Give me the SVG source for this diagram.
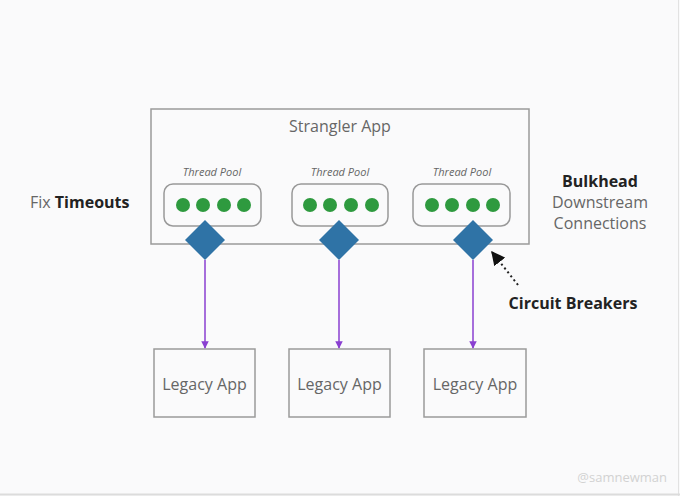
<svg xmlns="http://www.w3.org/2000/svg" width="680" height="496" viewBox="0 0 680 496">
<defs>
<style>
.box{fill:none;stroke:#9a9a9a;stroke-width:1.5}
.pool{fill:none;stroke:#999;stroke-width:1.5}
.dot{fill:#2e9a3f}
.dia{fill:#2f73a6}
.t{font-family:"Open Sans","Noto Sans",sans-serif;fill:#666;font-size:16px}
.tp{font-family:"Open Sans","Noto Sans",sans-serif;fill:#666;font-size:11px;font-style:italic;text-anchor:middle}
.b{font-family:"Open Sans","Noto Sans",sans-serif;fill:#222;font-weight:bold;font-size:16px}
.conn{stroke:#8a3fd1;stroke-width:1.5;fill:none}
</style>
<marker id="pa" viewBox="0 0 10 10" refX="9" refY="5" markerWidth="5" markerHeight="5" orient="auto"><path d="M0,0 L10,5 L0,10 z" fill="#8a3fd1"/></marker>
<marker id="ka" viewBox="0 0 10 10" refX="9" refY="5" markerWidth="7" markerHeight="7" orient="auto"><path d="M0,0 L10,5 L0,10 z" fill="#111"/></marker>
</defs>
<rect width="680" height="496" fill="#fafafb"/>
<line x1="678.5" y1="0" x2="678.5" y2="496" stroke="#e2e2e2"/>
<line x1="0" y1="494.5" x2="680" y2="494.5" stroke="#dcdcdc" stroke-width="2"/>

<g id="strangler">
<rect class="box" x="151" y="109" width="378" height="135"/>
<text class="t" x="340" y="132" text-anchor="middle">Strangler App</text>
</g>

<g id="pool1">
<text class="tp" x="212" y="176">Thread Pool</text>
<rect class="pool" x="164" y="184" width="97" height="42" rx="9"/>
<circle class="dot" cx="183" cy="205" r="7"/><circle class="dot" cx="203" cy="205" r="7"/><circle class="dot" cx="224" cy="205" r="7"/><circle class="dot" cx="244" cy="205" r="7"/>
</g>
<g id="pool2">
<text class="tp" x="340" y="176">Thread Pool</text>
<rect class="pool" x="292" y="184" width="96" height="42" rx="9"/>
<circle class="dot" cx="310" cy="205" r="7"/><circle class="dot" cx="330" cy="205" r="7"/><circle class="dot" cx="351" cy="205" r="7"/><circle class="dot" cx="372" cy="205" r="7"/>
</g>
<g id="pool3">
<text class="tp" x="462" y="176">Thread Pool</text>
<rect class="pool" x="413" y="184" width="97" height="42" rx="9"/>
<circle class="dot" cx="432" cy="205" r="7"/><circle class="dot" cx="452" cy="205" r="7"/><circle class="dot" cx="473" cy="205" r="7"/><circle class="dot" cx="493" cy="205" r="7"/>
</g>

<g id="cb1"><polygon class="dia" points="205,220 225,240 205,260 185,240"/></g>
<g id="cb2"><polygon class="dia" points="339,220 359,240 339,260 319,240"/></g>
<g id="cb3"><polygon class="dia" points="473,220 493,240 473,260 453,240"/></g>

<g id="legacy1"><rect class="box" x="154" y="349" width="101" height="68"/><text class="t" x="204.5" y="390" text-anchor="middle">Legacy App</text></g>
<g id="legacy2"><rect class="box" x="289" y="349" width="101" height="68"/><text class="t" x="339.5" y="390" text-anchor="middle">Legacy App</text></g>
<g id="legacy3"><rect class="box" x="424" y="349" width="102" height="68"/><text class="t" x="475" y="390" text-anchor="middle">Legacy App</text></g>

<g id="connectors">
<line class="conn" x1="205" y1="260" x2="205" y2="348" marker-end="url(#pa)"/>
<line class="conn" x1="339" y1="260" x2="339" y2="348" marker-end="url(#pa)"/>
<line class="conn" x1="473" y1="260" x2="473" y2="348" marker-end="url(#pa)"/>
<line x1="518" y1="285" x2="492" y2="252" stroke="#222" stroke-width="2" stroke-dasharray="2,3" marker-end="url(#ka)"/>
</g>

<g id="labels">
<text x="30" y="208" font-family="Open Sans, Noto Sans, sans-serif" font-size="16"><tspan fill="#666">Fix </tspan><tspan fill="#222" font-weight="bold">Timeouts</tspan></text>
<text class="b" x="600" y="186.5" text-anchor="middle" font-size="15.5">Bulkhead</text>
<text class="t" x="600" y="207.5" text-anchor="middle" font-size="15">Downstream</text>
<text class="t" x="600" y="228.5" text-anchor="middle" font-size="15">Connections</text>
<text class="b" x="573" y="309" text-anchor="middle">Circuit Breakers</text>
<text x="667" y="482" text-anchor="end" font-family="Open Sans, Noto Sans, sans-serif" font-size="13" fill="#d2d2d2">@samnewman</text>
</g>
</svg>
